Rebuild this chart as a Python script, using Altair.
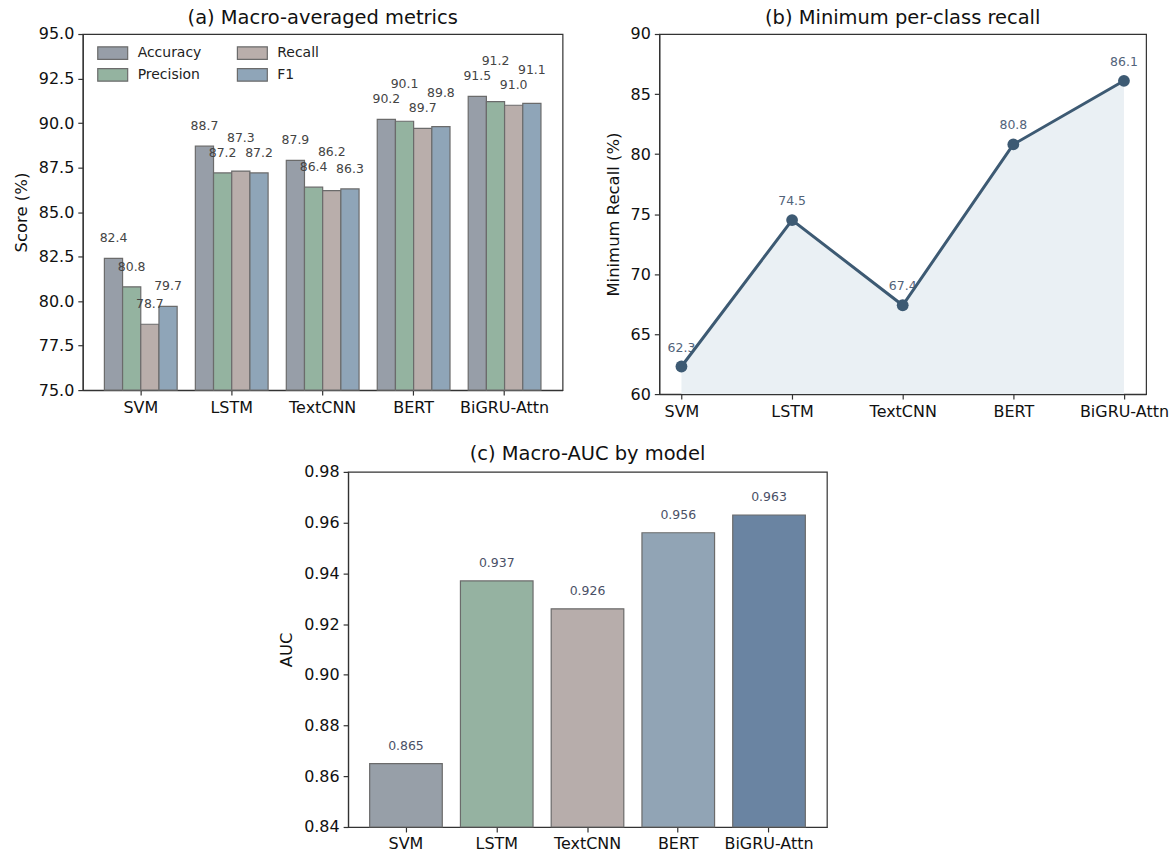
import altair as alt
import pandas as pd

# ---- data -------------------------------------------------------------
models = ["SVM", "LSTM", "TextCNN", "BERT", "BiGRU-Attn"]
metric_names = ["Accuracy", "Precision", "Recall", "F1"]
accuracy = [82.4, 88.7, 87.9, 90.2, 91.5]
precision = [80.8, 87.2, 86.4, 90.1, 91.2]
recall = [78.7, 87.3, 86.2, 89.7, 91.0]
f1 = [79.7, 87.2, 86.3, 89.8, 91.1]
min_recall = [62.3, 74.5, 67.4, 80.8, 86.1]
macro_auc = [0.865, 0.937, 0.926, 0.956, 0.963]

# ---- styling ----------------------------------------------------------
FONT = "DejaVu Sans"
metric_colors = {
    "Accuracy": "#979ea8",
    "Precision": "#94b3a0",
    "Recall": "#b9aeab",
    "F1": "#8fa5b8",
}
model_colors = ["#979fa8", "#95b2a1", "#b7adab", "#91a4b5", "#6a84a2"]
EDGE = "#6b6b6b"
LINE = "#3d5a73"
AREA = "#eaf0f4"


def lift_labels(values, lift=0.9, gap=0.85):
    """Place value labels above bars, nudging a label up when it would
    collide with its left-hand neighbour."""
    out, prev = [], None
    for v in values:
        y = round(v + lift, 3)
        if prev is not None and abs(y - prev) < gap - 1e-6:
            y = round(prev + gap, 3)
        out.append(y)
        prev = y
    return out


# ---- (a) grouped bars ---------------------------------------------------
series = dict(zip(metric_names, [accuracy, precision, recall, f1]))
rows = []
for i, model in enumerate(models):
    vals = [series[m][i] for m in metric_names]
    for m, v, ly in zip(metric_names, vals, lift_labels(vals)):
        rows.append({"model": model, "metric": m, "score": v, "label_y": ly})
metrics_df = pd.DataFrame(rows)

x_a = alt.X(
    "model:N", sort=models, title=None,
    scale=alt.Scale(paddingInner=0.2, paddingOuter=0.2375),
    axis=alt.Axis(labelAngle=0),
)
xo_a = alt.XOffset("metric:N", sort=metric_names,
                   scale=alt.Scale(paddingInner=0, paddingOuter=0))
score_scale = alt.Scale(domain=[75, 95], nice=False, zero=False)
score_axis = alt.Axis(values=[75, 77.5, 80, 82.5, 85, 87.5, 90, 92.5, 95], format=".1f")

# wide, flat legend swatch (30 x 12.6 px at symbolSize 400)
SWATCH = "M-1.5,-0.63L1.5,-0.63L1.5,0.63L-1.5,0.63Z"

bars_a = alt.Chart(metrics_df).mark_bar(stroke=EDGE, strokeWidth=1.2).encode(
    x=x_a,
    xOffset=xo_a,
    y=alt.Y("score:Q", scale=score_scale, axis=score_axis, title="Score (%)"),
    y2=alt.datum(75),
    color=alt.Color(
        "metric:N",
        scale=alt.Scale(domain=metric_names, range=[metric_colors[m] for m in metric_names]),
        legend=alt.Legend(
            title=None, orient="none", legendX=19, legendY=8, columns=2,
            symbolType=SWATCH, symbolSize=400,
            symbolStrokeColor=EDGE, symbolStrokeWidth=1.2, symbolOpacity=1,
            labelFont=FONT, labelFontSize=14, labelColor="#222", labelOffset=14,
            columnPadding=33, rowPadding=2, padding=0,
        ),
    ),
)
labels_a = alt.Chart(metrics_df).mark_text(
    font=FONT, fontSize=12.5, color="#444444", baseline="alphabetic"
).encode(
    x=x_a,
    xOffset=xo_a,
    y=alt.Y("label_y:Q", scale=score_scale, axis=score_axis, title="Score (%)"),
    text=alt.Text("score:Q", format=".1f"),
)
panel_a = alt.layer(bars_a, labels_a).properties(
    width=481, height=357,
    title=alt.TitleParams("(a) Macro-averaged metrics", offset=-2),
)

# ---- (b) minimum per-class recall -------------------------------------
recall_df = pd.DataFrame({"model": models, "min_recall": min_recall})
x_b = alt.X("model:N", sort=models, title=None,
            scale=alt.Scale(type="point", padding=0.2),
            axis=alt.Axis(labelAngle=0))
y_b = alt.Y("min_recall:Q", title="Minimum Recall (%)",
            scale=alt.Scale(domain=[60, 90], nice=False, zero=False),
            axis=alt.Axis(values=[60, 65, 70, 75, 80, 85, 90]))
base_b = alt.Chart(recall_df)
area_b = base_b.mark_area(color=AREA, opacity=1).encode(x=x_b, y=y_b, y2=alt.datum(60))
text_b = base_b.mark_text(
    font=FONT, fontSize=12.5, color="#52637a", baseline="alphabetic", dy=-15
).encode(x=x_b, y=y_b, text=alt.Text("min_recall:Q", format=".1f"))
line_b = base_b.mark_line(color=LINE, strokeWidth=3).encode(x=x_b, y=y_b)
pts_b = base_b.mark_circle(color=LINE, size=140, opacity=1).encode(x=x_b, y=y_b)
panel_b = alt.layer(area_b, text_b, line_b, pts_b).properties(
    width=488, height=361,
    title=alt.TitleParams("(b) Minimum per-class recall", offset=-2),
)

# ---- (c) macro-AUC ----------------------------------------------------
auc_df = pd.DataFrame({"model": models, "auc": macro_auc})
x_c = alt.X("model:N", sort=models, title=None,
            scale=alt.Scale(paddingInner=0.2, paddingOuter=0.2375),
            axis=alt.Axis(labelAngle=0))
y_c = alt.Y("auc:Q", title="AUC",
            scale=alt.Scale(domain=[0.84, 0.98], nice=False, zero=False),
            axis=alt.Axis(values=[0.84, 0.86, 0.88, 0.90, 0.92, 0.94, 0.96, 0.98], format=".2f"))
bars_c = alt.Chart(auc_df).mark_bar(stroke=EDGE, strokeWidth=1.2).encode(
    x=x_c, y=y_c, y2=alt.datum(0.84),
    color=alt.Color("model:N", scale=alt.Scale(domain=models, range=model_colors), legend=None),
)
text_c = alt.Chart(auc_df).mark_text(
    font=FONT, fontSize=12.5, color="#4a5066", baseline="alphabetic", dy=-14
).encode(x=x_c, y=y_c, text=alt.Text("auc:Q", format=".3f"))
panel_c = alt.layer(bars_c, text_c).properties(
    width=480, height=356,
    title=alt.TitleParams("(c) Macro-AUC by model", offset=-1),
)

# blank block that shifts the lower panel towards the middle
spacer = alt.Chart(pd.DataFrame({"v": [0]})).mark_point(opacity=0, size=1).encode(
    x=alt.value(10), y=alt.value(5)
).properties(width=194, height=10, view=alt.ViewBackground(stroke="transparent"))

top_row = alt.hconcat(panel_a, panel_b, spacing=41)
bottom_row = alt.hconcat(spacer, panel_c, spacing=0)

chart = (
    alt.vconcat(top_row, bottom_row, spacing=23)
    .resolve_scale(color="independent")
    .properties(padding={"left": 12, "top": 5, "right": 5, "bottom": 5})
    .configure_view(stroke="#333333", strokeWidth=1.2)
    .configure_axis(
        labelFont=FONT, labelFontSize=16, labelColor="#111111",
        titleFont=FONT, titleFontSize=16.5, titleFontWeight="normal", titleColor="#111111",
        tickColor="#333333", tickSize=5, tickWidth=1.2,
        domainColor="#333333", domainWidth=1.2,
        labelPadding=4, titlePadding=9, grid=False,
    )
    .configure_title(font=FONT, fontSize=19.5, fontWeight="normal", color="#111111",
                     anchor="middle", baseline="alphabetic")
)

chart.save("out.html", embed_options={"renderer": "svg", "actions": False})
